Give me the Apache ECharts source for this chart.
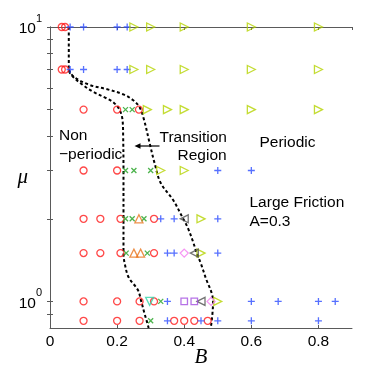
<!DOCTYPE html>
<html>
<head>
<meta charset="utf-8">
<script src="https://cdn.jsdelivr.net/npm/echarts@6/dist/echarts.min.js"></script>
<style>
  html, body { margin: 0; padding: 0; background: #fff; }
  #main { width: 374px; height: 369px; }
</style>
</head>
<body>
<div id="main"></div>
<script>
// points are [B, mu]
var circles = [[0.035,10],[0.045,10],[0.035,7],[0.045,7],
  [0.1,5],[0.2,5],[0.265,5],[0.1,3],[0.2,3],
  [0.1,2],[0.15,2],[0.21,2],[0.31,2],[0.1,1.5],[0.15,1.5],[0.21,1.5],[0.31,1.5],
  [0.1,1],[0.2,1],[0.267,1],[0.31,1],
  [0.1,0.85],[0.2,0.85],[0.267,0.85],[0.37,0.85],[0.4,0.85],[0.43,0.85],[0.47,0.85]];
var pluses = [[0.06,10],[0.1,10],[0.2,10],[0.23,10],[0.06,7],[0.1,7],[0.2,7],[0.23,7],
  [0.5,3],[0.6,3],[0.33,2],[0.37,2],[0.5,2],[0.35,1.5],[0.37,1.5],[0.5,1.5],
  [0.35,1],[0.6,1],[0.68,1],[0.8,1],[0.85,1],
  [0.35,0.85],[0.45,0.85],[0.5,0.85],[0.6,0.85],[0.8,0.85]];
var crosses = [[0.225,5],[0.245,5],[0.225,3],[0.25,3],[0.3,3],[0.225,2],[0.245,2],[0.28,2],
  [0.227,1.5],[0.29,1.5],[0.33,1],[0.3,0.85]];
var triRight = [[0.25,10],[0.3,10],[0.4,10],[0.6,10],[0.8,10],[0.25,7],[0.3,7],[0.4,7],[0.6,7],[0.8,7],
  [0.29,5],[0.35,5],[0.4,5],[0.6,5],[0.8,5],[0.33,3],[0.4,3],[0.45,2],[0.45,1.5],[0.5,1]];
var triUp = [[0.265,2],[0.25,1.5],[0.27,1.5]];
var triLeft = [[0.4,2],[0.43,1.5],[0.45,1]];
var diamonds = [[0.4,1.5],[0.48,1]];
var squares = [[0.4,1],[0.43,1]];
var triDown = [[0.297,1]];

var leftBoundary = [[0.056,10],[0.056,7],[0.068,6.6],[0.098,6.15],[0.127,5.82],[0.168,5.5],[0.19,5.3],
  [0.207,5.0],[0.216,4.6],[0.218,4.0],[0.219,3.0],[0.219,2.0],[0.219,1.5],[0.224,1.35],[0.235,1.22],
  [0.262,1.1],[0.272,1.0],[0.282,0.9],[0.29,0.834],[0.294,0.8]];
var rightBoundary = [[0.056,7],[0.07,6.6],[0.118,6.15],[0.168,5.94],[0.217,5.69],[0.247,5.42],[0.267,5.1],
  [0.28,4.6],[0.297,3.77],[0.312,3.18],[0.33,2.7],[0.367,2.34],[0.397,2.0],[0.411,1.85],[0.427,1.64],
  [0.437,1.5],[0.45,1.37],[0.466,1.2],[0.481,1.08],[0.486,1.0],[0.484,0.9],[0.481,0.834],[0.479,0.8]];

var yLabelValues = [1, 10];
var yTickValues = [0.9, 1, 2, 3, 4, 5, 6, 7, 8, 9, 10];

var axisColor = '#5a5a5a';
var font = 'Liberation Sans';

function hollow(name, data, symbol, size, color, rotate) {
  return {
    name: name, type: 'scatter', data: data, symbol: symbol, symbolSize: size,
    symbolRotate: rotate || 0, clip: false, z: 3,
    itemStyle: { color: 'rgba(0,0,0,0)', borderColor: color, borderWidth: 1.3 },
    emphasis: { disabled: true }
  };
}
function boundary(data) {
  return {
    type: 'line', data: data, symbol: 'none', smooth: 0.35, z: 2,
    lineStyle: { color: '#000', width: 2, type: [3, 2.5] },
    emphasis: { disabled: true }
  };
}

var chart = echarts.init(document.getElementById('main'));
chart.setOption({
  animation: false,
  backgroundColor: '#fff',
  grid: { left: 50, top: 27, right: 22, bottom: 41, outerBoundsMode: 'none', containLabel: false },
  xAxis: [{
    type: 'value', min: 0, max: 0.9, interval: 0.2, position: 'bottom',
    name: 'B', nameLocation: 'middle', nameGap: 19, nameMoveOverlap: false,
    nameTextStyle: { fontFamily: 'Liberation Serif', fontStyle: 'italic', fontSize: 21, color: '#000' },
    axisLine: { show: true, lineStyle: { color: axisColor } },
    axisTick: { show: true, inside: true, length: 3, lineStyle: { color: axisColor } },
    axisLabel: { showMaxLabel: false, margin: 6, fontFamily: font, fontSize: 15.5, color: '#000' },
    splitLine: { show: false }
  }, {
    type: 'value', min: 0, max: 0.9, interval: 0.2, position: 'top',
    axisLine: { show: true, lineStyle: { color: axisColor } },
    axisTick: { show: true, inside: true, length: 3, lineStyle: { color: axisColor } },
    axisLabel: { show: false }, splitLine: { show: false }
  }],
  yAxis: [{
    type: 'log', logBase: 10, min: 0.8, max: 10, position: 'left',
    name: 'μ', nameLocation: 'middle', nameGap: 22, nameRotate: 0, nameMoveOverlap: false,
    nameTextStyle: { fontFamily: 'Liberation Serif', fontStyle: 'italic', fontSize: 21, color: '#000' },
    axisLine: { show: true, lineStyle: { color: axisColor } },
    axisTick: { show: true, inside: true, length: 3, customValues: yTickValues, lineStyle: { color: axisColor } },
    axisLabel: {
      customValues: yLabelValues, margin: 8, padding: [0, 0, 4, 0],
      formatter: function (v) { return '{b|10}{s|' + Math.round(Math.log10(v)) + '}'; },
      rich: {
        b: { fontFamily: font, fontSize: 15.5, color: '#000', padding: [8, 0, 0, 0] },
        s: { fontFamily: font, fontSize: 11, color: '#000', verticalAlign: 'top' }
      }
    },
    splitLine: { show: false }, minorTick: { show: false }
  }, {
    type: 'log', logBase: 10, min: 0.8, max: 10, position: 'right',
    axisLine: { show: true, lineStyle: { color: axisColor } },
    axisTick: { show: true, inside: true, length: 3, customValues: yTickValues, lineStyle: { color: axisColor } },
    axisLabel: { show: false }, splitLine: { show: false }
  }],
  series: [
    boundary(leftBoundary),
    boundary(rightBoundary),
    hollow('circle', circles, 'circle', 7, '#ff1a1a'),
    hollow('plus', pluses, 'path://M0,5H10M5,0V10', 7, '#2c4cff'),
    hollow('cross', crosses, 'path://M0,0L10,10M10,0L0,10', 5, '#20a020'),
    hollow('right', triRight, 'triangle', 8, '#b5d300', -90),
    hollow('up', triUp, 'triangle', 8, '#e8741c'),
    hollow('left', triLeft, 'triangle', 8, '#505050', 90),
    hollow('diamond', diamonds, 'diamond', 8, '#f47cf0'),
    hollow('square', squares, 'rect', 6.5, '#a24fe0'),
    hollow('down', triDown, 'triangle', 8, '#2fd3a8', 180)
  ],
  graphic: [
    { type: 'text', x: 59, y: 136, style: { text: 'Non', font: '15.5px ' + font, fill: '#000', verticalAlign: 'middle' } },
    { type: 'text', x: 59, y: 154.5, style: { text: '−periodic', font: '15.5px ' + font, fill: '#000', verticalAlign: 'middle' } },
    { type: 'text', x: 159.5, y: 137.5, style: { text: 'Transition', font: '15.5px ' + font, fill: '#000', verticalAlign: 'middle' } },
    { type: 'text', x: 177.5, y: 155.5, style: { text: 'Region', font: '15.5px ' + font, fill: '#000', verticalAlign: 'middle' } },
    { type: 'text', x: 259.5, y: 142.5, style: { text: 'Periodic', font: '15.5px ' + font, fill: '#000', verticalAlign: 'middle' } },
    { type: 'text', x: 249.5, y: 203, style: { text: 'Large Friction', font: '15.5px ' + font, fill: '#000', verticalAlign: 'middle' } },
    { type: 'text', x: 249.5, y: 221.5, style: { text: 'A=0.3', font: '15.5px ' + font, fill: '#000', verticalAlign: 'middle' } },
    { type: 'line', shape: { x1: 159.5, y1: 146, x2: 139, y2: 146 }, style: { stroke: '#000', lineWidth: 1.2 } },
    { type: 'polygon', shape: { points: [[134.5, 146], [140.5, 143.2], [140.5, 148.8]] }, style: { fill: '#000' } }
  ]
});
</script>
</body>
</html>
